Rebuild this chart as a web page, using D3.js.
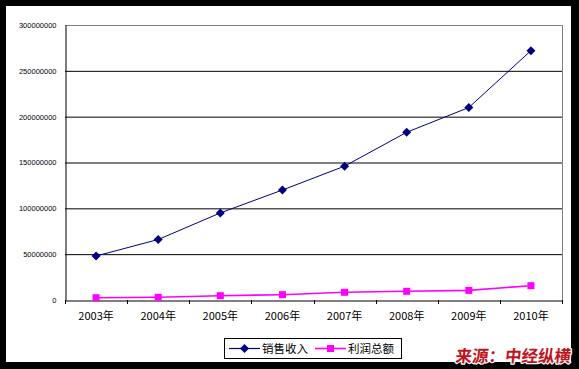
<!DOCTYPE html>
<html><head><meta charset="utf-8">
<script src="https://cdn.jsdelivr.net/npm/d3@7"></script>
<style>body{margin:0;background:#000;}svg{display:block;}</style>
</head><body>
<svg id="c" width="579" height="369"></svg>
<script>
const categories = ["2003年","2004年","2005年","2006年","2007年","2008年","2009年","2010年"];
const sales = [48000000, 66000000, 95000000, 120000000, 146000000, 183000000, 210000000, 272000000];
const profit = [2500000, 3000000, 4700000, 5800000, 8400000, 9500000, 10500000, 15600000];
const yTicks = [0, 50000000, 100000000, 150000000, 200000000, 250000000, 300000000];
const seriesNames = ["销售收入", "利润总额"];
const sourceText = "来源：中经纵横";

const svg = d3.select("#c");
svg.append("rect").attr("x",0).attr("y",0).attr("width",579).attr("height",369).attr("fill","#000");
svg.append("rect").attr("x",6).attr("y",6).attr("width",565).attr("height",356).attr("fill","#fff");

const L=65, R=562, T=25, B=300;
const x = d3.scaleBand().domain(categories).range([L,R]);
const y = d3.scaleLinear().domain([0,300000000]).range([B,T]);

// gridlines
svg.append("g").selectAll("line").data(yTicks.filter(v=>v>0 && v<300000000)).join("line")
  .attr("x1",L).attr("x2",R).attr("y1",d=>y(d)+0.5).attr("y2",d=>y(d)+0.5)
  .attr("stroke","#000").attr("stroke-width",1);
// plot border top/right gray
svg.append("path").attr("d",`M${L},${T+0.5}H${R+0.5}V${B}`).attr("fill","none").attr("stroke","#808080").attr("stroke-width",1);

// y axis
const yAxis = d3.axisLeft(y).tickValues(yTicks).tickSize(0).tickPadding(9).tickFormat(d3.format("d"));
const gy = svg.append("g").attr("transform",`translate(${L+0.5},0)`).call(yAxis);
gy.select(".domain").attr("stroke","#000");
gy.selectAll("text").attr("font-family","Arial, 'Liberation Sans', sans-serif").attr("font-size","7.5px").attr("fill","#000");

// x axis
const xAxis = d3.axisBottom(x).tickSize(0).tickPadding(12);
const gx = svg.append("g").attr("transform",`translate(0,${B+0.5})`).call(xAxis);
gx.select(".domain").attr("stroke","#000");
gx.selectAll("text").attr("font-family","'Noto Sans CJK SC', Arial, sans-serif").attr("font-size","11px").attr("fill","#000");
// band boundary ticks
const bounds = categories.map(c=>x(c)).concat([R]);
svg.append("g").selectAll("line").data(bounds).join("line")
  .attr("x1",d=>Math.round(d)+0.5).attr("x2",d=>Math.round(d)+0.5).attr("y1",B).attr("y2",B+4)
  .attr("stroke","#000");

const cx = c=>x(c)+x.bandwidth()/2;
const line = d3.line().x((d,i)=>cx(categories[i])).y(d=>y(d));

// profit series
svg.append("path").datum(profit).attr("d",line).attr("fill","none").attr("stroke","#ff00ff").attr("stroke-width",1.6);
svg.append("g").selectAll("rect").data(profit).join("rect")
  .attr("x",(d,i)=>cx(categories[i])-3.5).attr("y",d=>y(d)-3.5).attr("width",7).attr("height",7).attr("fill","#ff00ff");

// sales series
svg.append("path").datum(sales).attr("d",line).attr("fill","none").attr("stroke","#000080").attr("stroke-width",1);
const diamond = "M0,-4.5L4.5,0L0,4.5L-4.5,0Z";
svg.append("g").selectAll("path").data(sales).join("path")
  .attr("d",diamond).attr("transform",(d,i)=>`translate(${cx(categories[i])},${y(d)})`).attr("fill","#000080");

// legend
const lg = svg.append("g");
lg.append("rect").attr("x",224.5).attr("y",338.5).attr("width",177).attr("height",20).attr("fill","#fff").attr("stroke","#000");
const ly = 348.5;
lg.append("line").attr("x1",229).attr("x2",260).attr("y1",ly).attr("y2",ly).attr("stroke","#000080").attr("stroke-width",1.2);
lg.append("path").attr("d",diamond).attr("transform",`translate(244.5,${ly})`).attr("fill","#000080");
lg.append("text").attr("x",262).attr("y",ly+4).text(seriesNames[0])
  .attr("font-family","'Noto Sans CJK SC', sans-serif").attr("font-size","11.5px").attr("fill","#000");
lg.append("line").attr("x1",315).attr("x2",346).attr("y1",ly).attr("y2",ly).attr("stroke","#ff00ff").attr("stroke-width",1.6);
lg.append("rect").attr("x",327).attr("y",ly-3.5).attr("width",7).attr("height",7).attr("fill","#ff00ff");
lg.append("text").attr("x",348).attr("y",ly+4).text(seriesNames[1])
  .attr("font-family","'Noto Sans CJK SC', sans-serif").attr("font-size","11.5px").attr("fill","#000");

// source
svg.append("text").attr("x",455).attr("y",362).text(sourceText)
  .attr("font-family","'Noto Sans CJK SC', sans-serif").attr("font-weight","bold").attr("font-size","16.5px")
  .attr("fill","#c0141c").attr("stroke","#fff").attr("stroke-width",2.5).attr("paint-order","stroke")
  .attr("stroke-linejoin","round").attr("transform","skewX(-6) translate(38,0)");
</script>
</body></html>
